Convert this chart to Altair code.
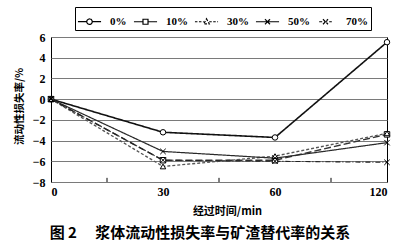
import altair as alt
import pandas as pd

times = ["0", "30", "60", "120"]
series = ["0%", "10%", "30%", "50%", "70%"]
v0 = [0, -3.2, -3.7, 5.5]
v10 = [0, -5.9, -5.9, -3.4]
v30 = [0, -6.5, -5.5, -3.3]
v50 = [0, -5.05, -5.7, -4.2]
v70 = [0, -5.9, -6.0, -6.1]
y_ticks = [-8, -6, -4, -2, 0, 2, 4, 6]
minor_ticks = [0.5, 1.5, 2.5]

values = {"0%": v0, "10%": v10, "30%": v30, "50%": v50, "70%": v70}
rows = []
for s in series:
    for i, t in enumerate(times):
        rows.append({"series": s, "idx": i, "time": t, "value": values[s][i]})
df = pd.DataFrame(rows)
tick_df = pd.DataFrame({"pos": minor_ticks, "y0": [-8] * 3, "y1": [-7.6] * 3})

dashes = [[1, 0], [7, 3], [3, 2], [1, 0], [5, 2, 1, 2]]
leg_dashes = [[1, 0], [1, 0], [2.5, 1.5], [1, 0], [3, 2]]
colors = ["#111111", "#333333", "#555555", "#2a2a2a", "#222222"]
widths = [1.6, 1.1, 1.0, 1.2, 1.5]
pt_shapes = ["circle", "square", "triangle-up",
             "M-1,-1L1,1M-1,1L1,-1", "M-1,-1L1,1M-1,1L1,-1"]
leg_shapes = [
    "M-1.1,0L-0.26,0M0.26,0L1.1,0M0.26,0A0.26,0.26,0,1,1,-0.26,0A0.26,0.26,0,1,1,0.26,0",
    "M-1.1,0L-0.24,0M0.24,0L1.1,0M-0.24,-0.24L0.24,-0.24L0.24,0.24L-0.24,0.24Z",
    "M-1.1,0L-0.26,0M0.26,0L1.1,0M0,-0.28L0.26,0.2L-0.26,0.2Z",
    "M-1.1,0L1.1,0M-0.24,-0.24L0.24,0.24M-0.24,0.24L0.24,-0.24",
    "M-0.6,0L0.6,0M-0.24,-0.24L0.24,0.24M-0.24,0.24L0.24,-0.24",
]

serif = "Liberation Serif"
cjk = "Noto Sans CJK SC"
label_expr = "[" + ",".join("'%s'" % t for t in times) + "][datum.value]"

x_scale = alt.Scale(domain=[0, 3], nice=False)
y_scale = alt.Scale(domain=[-8, 6], nice=False, zero=False)
x_axis = alt.Axis(values=[0, 1, 2, 3], labelExpr=label_expr, grid=False,
                  ticks=False, domain=False, title="经过时间/min",
                  titleFont=cjk, titleFontSize=11, titleFontWeight="bold",
                  titlePadding=8, labelFont=serif, labelFontSize=12,
                  labelFontWeight="bold", labelPadding=4, labelColor="black",
                  titleColor="black", titleX=176, labelOverlap=False)
y_axis = alt.Axis(values=y_ticks, grid=True, gridColor="#7a7a7a", gridWidth=1,
                  ticks=False, domain=False, title="流动性损失率/%",
                  titleFont=cjk, titleFontSize=10.5, titleFontWeight="bold",
                  titlePadding=8, labelFont=serif, labelFontSize=12,
                  labelFontWeight="bold", labelPadding=6, labelColor="black",
                  titleColor="black", titleY=69, labelOverlap=False)

x_enc = alt.X("idx:Q", scale=x_scale, axis=x_axis)
y_enc = alt.Y("value:Q", scale=y_scale, axis=y_axis)

base = alt.Chart(df)

lines = base.mark_line().encode(
    x=x_enc, y=y_enc,
    color=alt.Color("series:N", scale=alt.Scale(domain=series, range=colors), legend=None),
    strokeDash=alt.StrokeDash("series:N", scale=alt.Scale(domain=series, range=dashes), legend=None),
    strokeWidth=alt.StrokeWidth("series:N", scale=alt.Scale(domain=series, range=widths), legend=None),
    detail="series:N",
)

points = base.mark_point(filled=True, fill="white", stroke="black", strokeWidth=1, size=30, opacity=1).encode(
    x=x_enc, y=y_enc,
    shape=alt.Shape("series:N", scale=alt.Scale(domain=series, range=pt_shapes), legend=None),
)

ticks = alt.Chart(tick_df).mark_rule(color="black", strokeWidth=1).encode(
    x=alt.X("pos:Q", scale=x_scale, axis=x_axis),
    y=alt.Y("y0:Q", scale=y_scale, axis=y_axis),
    y2="y1:Q",
)

legend_layer = alt.Chart(df).transform_filter("false").mark_point(
    filled=False, color="black", strokeWidth=1.2, size=441, opacity=1
).encode(
    shape=alt.Shape("series:N", scale=alt.Scale(domain=series, range=leg_shapes),
                    legend=alt.Legend(orient="none", legendX=24, legendY=-30, direction="horizontal",
                                      columns=5, title=None, strokeColor="black", padding=3,
                                      symbolSize=441, symbolStrokeWidth=1.2,
                                      symbolStrokeColor="black", symbolOpacity=1,
                                      labelFont=serif, labelFontSize=11, labelFontWeight="bold",
                                      labelColor="black", columnPadding=4, labelOffset=9)),
    strokeDash=alt.StrokeDash("series:N", scale=alt.Scale(domain=series, range=leg_dashes)),
)

caption = "图 2\u3000 浆体流动性损失率与矿渣替代率的关系"

chart = alt.layer(lines, points, ticks, legend_layer).resolve_scale(
    shape="independent", strokeDash="independent"
).properties(
    width=336, height=145,
    autosize=alt.AutoSizeParams(type="none"),
    padding={"left": 51, "top": 37, "right": 16, "bottom": 64},
    title=alt.TitleParams(caption, orient="bottom",
                          anchor="middle", dx=-19, offset=10, font=cjk, fontSize=15,
                          fontWeight="bold", color="black"),
    background="white",
).configure_view(stroke="black", strokeWidth=1)

chart.save("out.html", embed_options={"renderer": "svg", "actions": False})
